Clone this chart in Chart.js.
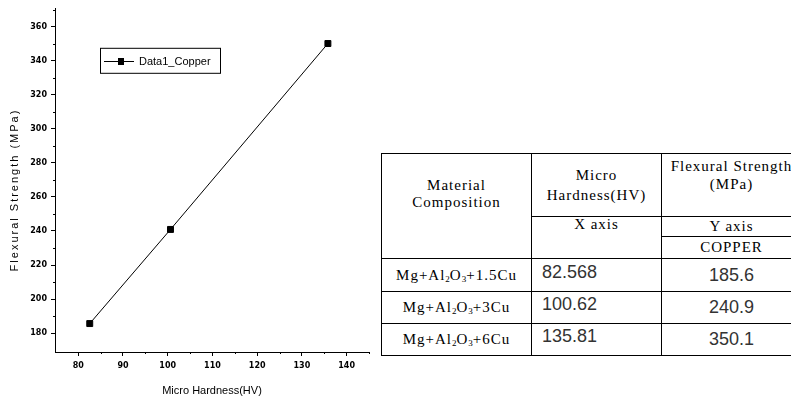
<!DOCTYPE html>
<html>
<head>
<meta charset="utf-8">
<script src="https://cdn.jsdelivr.net/npm/chart.js@4/dist/chart.umd.min.js"></script>
<style>
  html, body { margin: 0; padding: 0; background: #fff; width: 791px; height: 398px; overflow: hidden; }
  #plot { position: absolute; left: 0; top: 0; width: 380px; height: 398px; }
  #tbl {
    position: absolute; left: 381px; top: 153px;
    border-collapse: collapse; table-layout: fixed; width: 420px;
    font-family: 'Liberation Serif', 'Times New Roman', serif; font-size: 15px;
    letter-spacing: 1px; color: #000;
  }
  #tbl th, #tbl td { border: 1px solid #000; padding: 0; font-weight: normal; text-align: center; vertical-align: middle; }
  #tbl .mat { vertical-align: top; padding-top: 23px; line-height: 17px; }
  #tbl .hv { line-height: 20px; }
  #tbl .fs { vertical-align: top; padding-top: 3px; line-height: 18px; }
  #tbl .ax { vertical-align: top; line-height: 15px; }
  #tbl sub { font-size: 9px; vertical-align: -2px; line-height: 0; letter-spacing: 0; }
  #tbl td.num { font-family: 'Liberation Sans', Arial, sans-serif; font-size: 18px; letter-spacing: 0; color: #333; }
  #tbl td.hx { text-align: left; padding-left: 10px; padding-bottom: 6px; }
</style>
</head>
<body>
<div id="plot"><canvas id="c"></canvas></div>
<table id="tbl">
  <colgroup><col style="width:150px"><col style="width:130px"><col style="width:140px"></colgroup>
  <thead>
    <tr style="height:63px">
      <th rowspan="3" class="mat">Material<br>Composition</th>
      <th class="hv">Micro<br>Hardness(HV)</th>
      <th class="fs">Flexural Strength<br>(MPa)</th>
    </tr>
    <tr style="height:20px">
      <th rowspan="2" class="ax">X axis</th>
      <th>Y axis</th>
    </tr>
    <tr style="height:22px">
      <th>COPPER</th>
    </tr>
  </thead>
  <tbody id="rows"></tbody>
</table>
<script>
// Copper additions (wt.%) to the Mg + Al2O3 base
const copperContent = ['1.5', '3', '6'];
// Micro hardness (HV) for each composition
const hardness = [82.568, 100.62, 135.81];
// Flexural strength (MPa) for each composition
const strength = [185.6, 240.9, 350.1];
const seriesName = 'Data1_Copper';

const xTicks = [80, 90, 100, 110, 120, 130, 140];
const xMinor = [85, 95, 105, 115, 125, 135, 145];
const yTicks = [180, 200, 220, 240, 260, 280, 300, 320, 340, 360];
const yMinor = [190, 210, 230, 250, 270, 290, 310, 330, 350, 370];

// table body
const rows = document.getElementById('rows');
copperContent.forEach((cu, i) => {
  const tr = document.createElement('tr');
  tr.style.height = (i === 0 ? 33 : 32) + 'px';
  tr.innerHTML =
    '<td>Mg+Al<sub>2</sub>O<sub>3</sub>+' + cu + 'Cu</td>' +
    '<td class="num hx">' + hardness[i] + '</td>' +
    '<td class="num">' + strength[i] + '</td>';
  rows.appendChild(tr);
});

const tickFont = { family: "'DejaVu Sans', 'Liberation Sans', sans-serif", size: 8, weight: 'bold' };

// minor ticks, rotated y title and boxed legend
const decorations = {
  id: 'decorations',
  afterDraw(chart) {
    const { ctx, chartArea } = chart;
    const x = chart.scales.x, y = chart.scales.y;
    ctx.save();
    ctx.strokeStyle = '#000';
    ctx.lineWidth = 1;
    ctx.beginPath();
    xMinor.forEach(v => {
      const px = Math.round(x.getPixelForValue(v)) + 0.5;
      ctx.moveTo(px, chartArea.bottom);
      ctx.lineTo(px, chartArea.bottom + 2);
    });
    yMinor.forEach(v => {
      const py = Math.round(y.getPixelForValue(v)) + 0.5;
      ctx.moveTo(chartArea.left, py);
      ctx.lineTo(chartArea.left - 2, py);
    });
    ctx.stroke();

    // y axis title
    ctx.save();
    ctx.translate(15, 190);
    ctx.rotate(-Math.PI / 2);
    ctx.font = "11px 'Liberation Sans', Arial, sans-serif";
    ctx.letterSpacing = '2px';
    ctx.fillStyle = '#000';
    ctx.textAlign = 'center';
    ctx.textBaseline = 'middle';
    ctx.fillText('Flexural Strength (MPa)', 0, 0);
    ctx.restore();

    // legend box
    const lx = chartArea.left + 46, ly = chartArea.top + 40;
    ctx.strokeRect(lx - 0.5, ly - 0.5, 120, 25);
    const cy = ly + 12.5;
    ctx.beginPath();
    ctx.moveTo(lx + 3, Math.round(cy) + 0.5);
    ctx.lineTo(lx + 33, Math.round(cy) + 0.5);
    ctx.stroke();
    ctx.fillStyle = '#000';
    ctx.fillRect(lx + 17, Math.round(cy) - 3, 6, 7);
    ctx.font = "11px 'Liberation Sans', Arial, sans-serif";
    ctx.textAlign = 'left';
    ctx.textBaseline = 'middle';
    ctx.fillText(chart.data.datasets[0].label, lx + 38, cy + 1);
    ctx.restore();
  }
};

new Chart(document.getElementById('c'), {
  type: 'scatter',
  data: {
    datasets: [{
      label: seriesName,
      data: hardness.map((h, i) => ({ x: h, y: strength[i] })),
      showLine: true,
      borderColor: '#000',
      borderWidth: 1,
      pointStyle: 'rect',
      pointRadius: 4.2,
      pointBackgroundColor: '#000',
      pointBorderColor: '#000',
      pointBorderWidth: 1
    }]
  },
  options: {
    responsive: true,
    maintainAspectRatio: false,
    animation: false,
    layout: { padding: { left: 0, top: 7, right: 11, bottom: 0 } },
    plugins: { legend: { display: false }, tooltip: { enabled: false } },
    scales: {
      x: {
        type: 'linear', min: 74.8, max: 145,
        afterBuildTicks: s => { s.ticks = xTicks.map(v => ({ value: v })); },
        afterFit: s => { s.height = 46; },
        grid: { drawOnChartArea: false, tickLength: 4, tickColor: '#000', tickWidth: 1 },
        border: { color: '#000', width: 1 },
        ticks: { color: '#000', font: tickFont, padding: 5, maxRotation: 0, autoSkip: false },
        title: { display: true, text: 'Micro Hardness(HV)', color: '#000',
                 font: { family: "'Liberation Sans', Arial, sans-serif", size: 11 }, padding: 0 }
      },
      y: {
        type: 'linear', min: 168.9, max: 370.5,
        afterBuildTicks: s => { s.ticks = yTicks.map(v => ({ value: v })); },
        afterFit: s => { s.width = 55; },
        grid: { drawOnChartArea: false, tickLength: 4, tickColor: '#000', tickWidth: 1 },
        border: { color: '#000', width: 1 },
        ticks: { color: '#000', font: tickFont, padding: 4, autoSkip: false }
      }
    }
  },
  plugins: [decorations]
});
</script>
</body>
</html>
